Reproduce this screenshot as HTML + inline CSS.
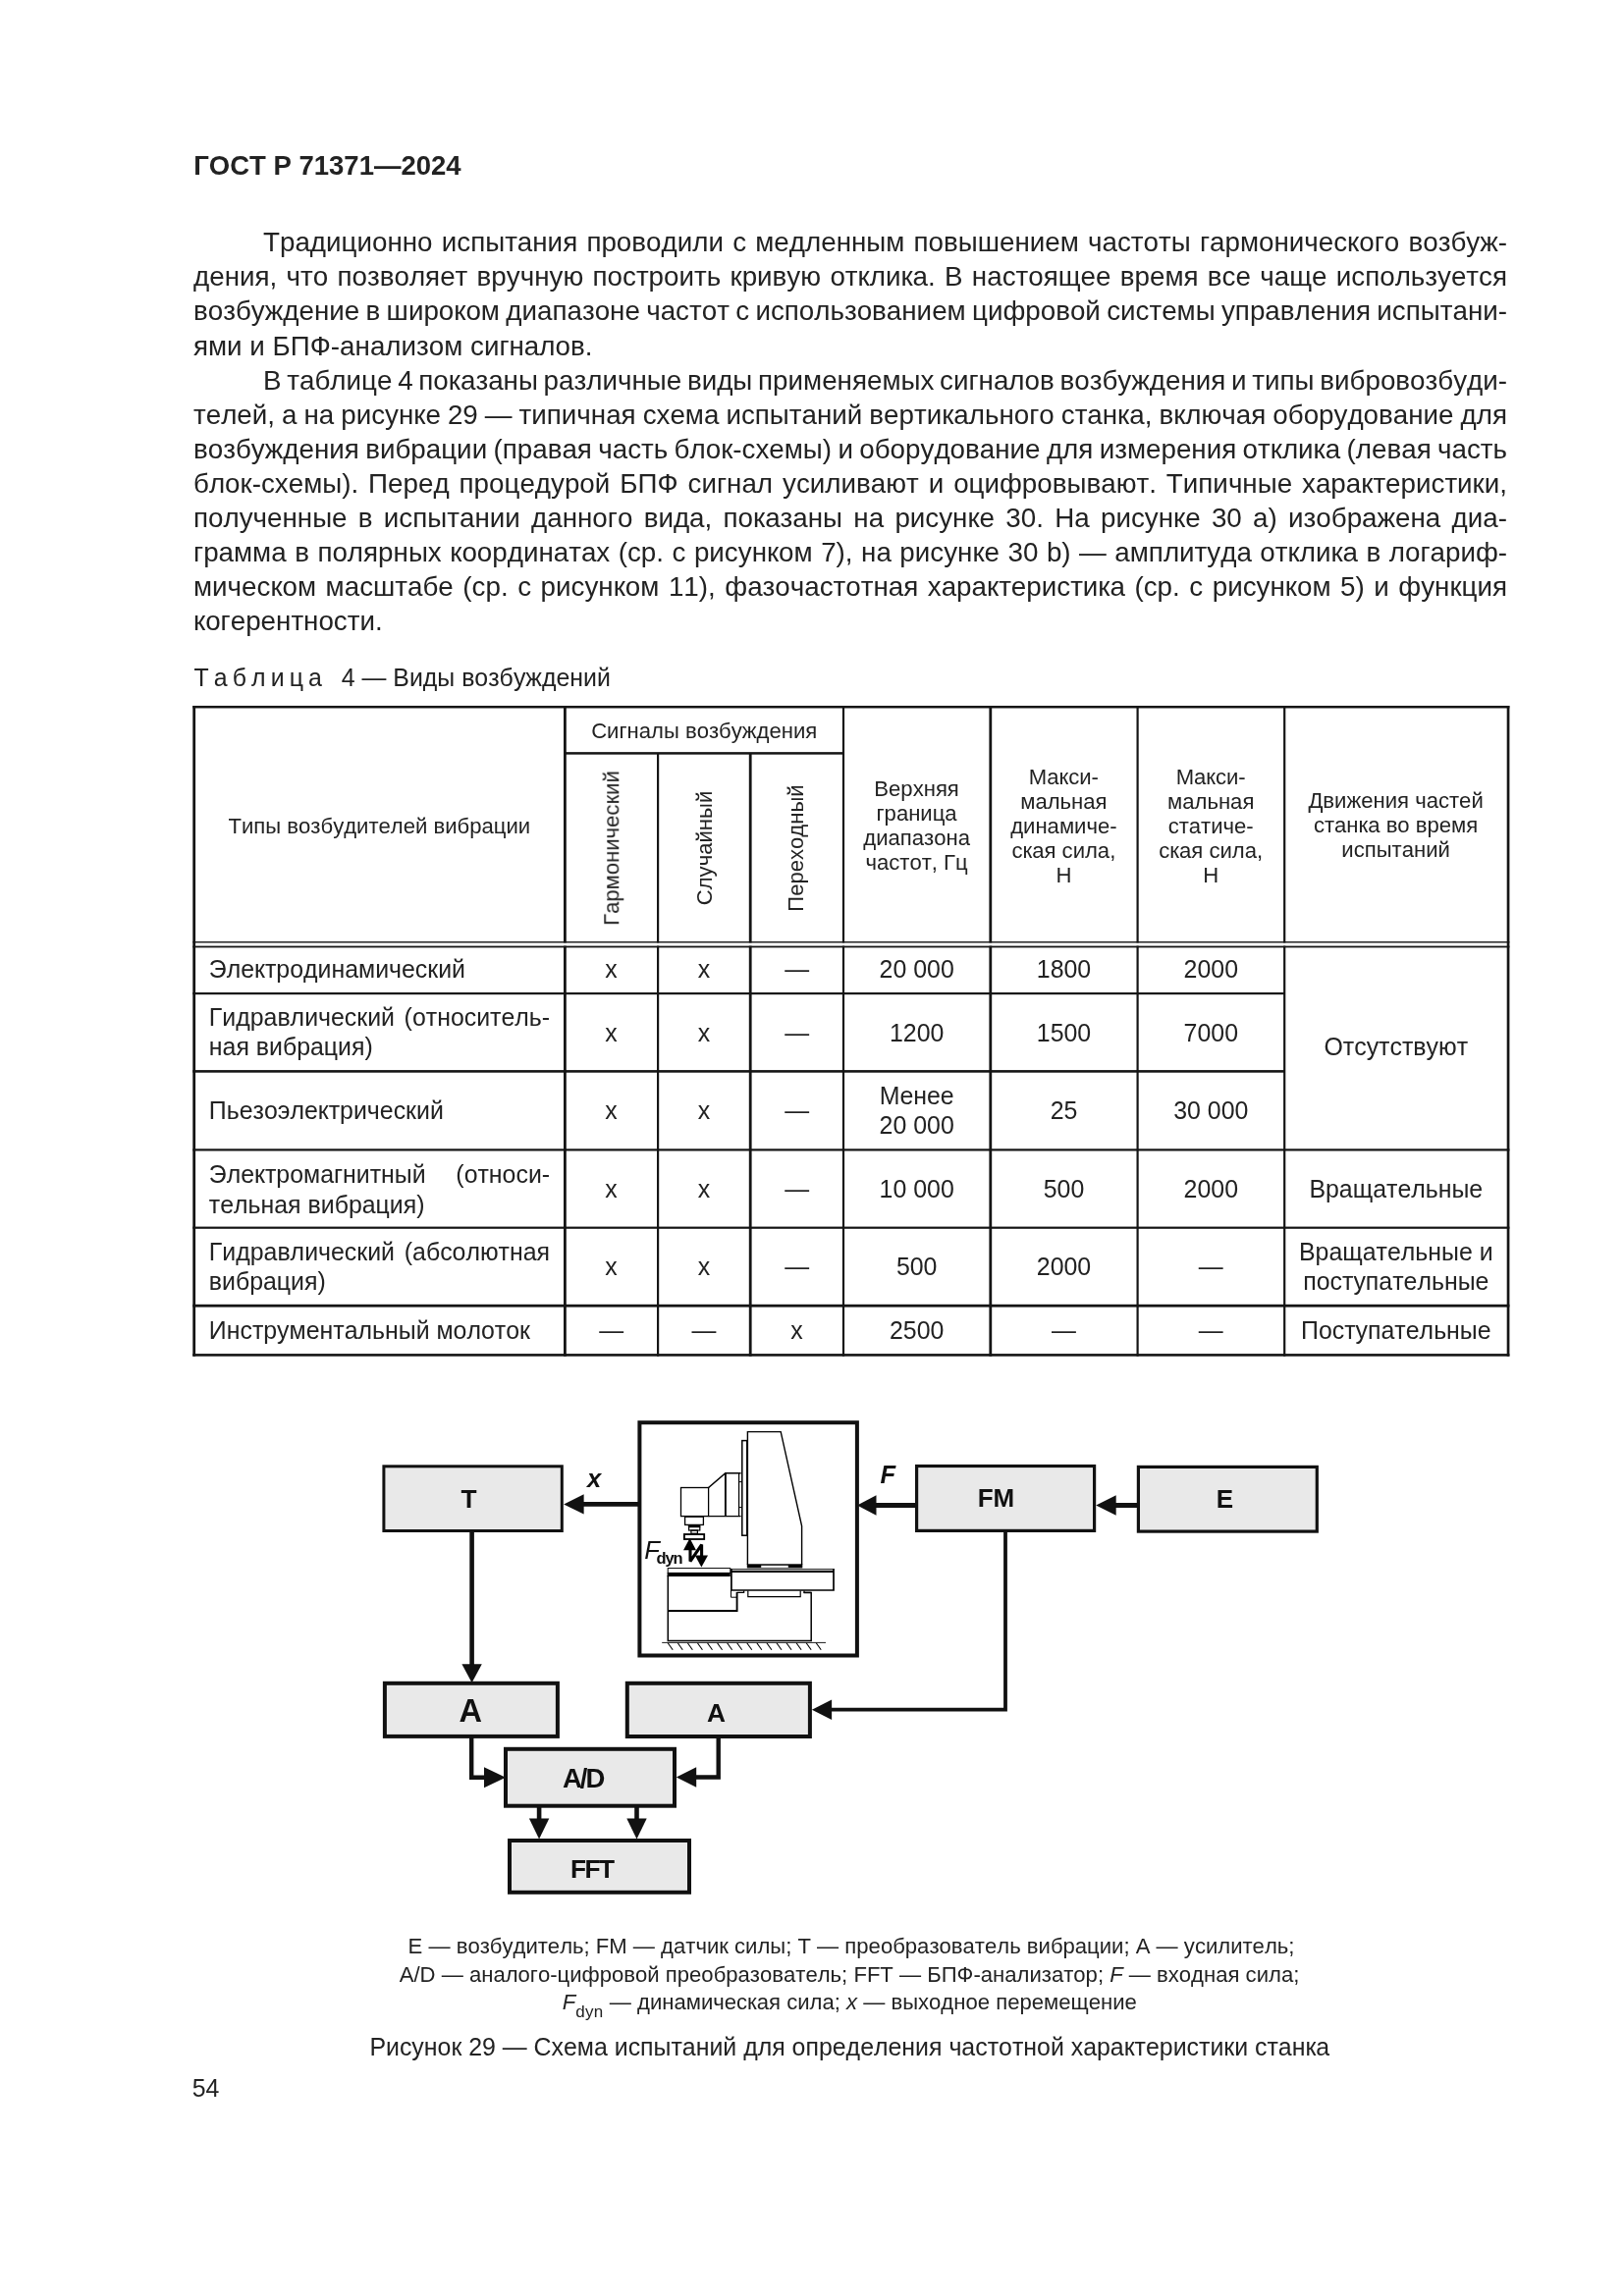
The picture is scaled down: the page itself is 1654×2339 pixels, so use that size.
<!DOCTYPE html>
<html lang="ru"><head><meta charset="utf-8"><title>ГОСТ Р 71371—2024</title>
<style>
html,body{margin:0;padding:0;background:#fff;}
body{width:1654px;height:2339px;position:relative;overflow:hidden;font-family:"Liberation Sans", sans-serif;color:#222;}
.t{position:absolute;white-space:nowrap;font-family:"Liberation Sans", sans-serif;font-kerning:none;}
#pg{position:absolute;left:0;top:0;width:1654px;height:2339px;will-change:transform;}
.b{font-weight:bold;}
.sub{font-size:17px;position:relative;top:7.5px;letter-spacing:0.3px;}
svg{position:absolute;left:0;top:0;}
svg text{font-family:"Liberation Sans", sans-serif;font-kerning:none;}
</style></head>
<body>
<div id="pg">
<svg width="1654" height="2339" viewBox="0 0 1654 2339" fill="#151515">
<rect x="196.30" y="718.95" width="1341.10" height="2.50"/>
<rect x="575.40" y="766.15" width="283.60" height="2.50"/>
<rect x="196.30" y="959.10" width="1341.10" height="1.40"/>
<rect x="196.30" y="963.60" width="1341.10" height="1.80"/>
<rect x="196.30" y="1011.00" width="1111.90" height="2.20"/>
<rect x="196.30" y="1090.10" width="1111.90" height="2.60"/>
<rect x="196.30" y="1170.30" width="1341.10" height="2.20"/>
<rect x="196.30" y="1249.60" width="1341.10" height="2.20"/>
<rect x="196.30" y="1328.80" width="1341.10" height="2.80"/>
<rect x="196.30" y="1379.10" width="1341.10" height="2.60"/>
<rect x="196.30" y="719.00" width="2.80" height="662.70"/>
<rect x="1534.70" y="719.00" width="2.70" height="662.70"/>
<rect x="574.00" y="719.00" width="2.80" height="241.50"/>
<rect x="574.00" y="963.60" width="2.80" height="418.10"/>
<rect x="669.00" y="767.40" width="2.20" height="193.10"/>
<rect x="669.00" y="963.60" width="2.20" height="418.10"/>
<rect x="762.80" y="767.40" width="2.80" height="193.10"/>
<rect x="762.80" y="963.60" width="2.80" height="418.10"/>
<rect x="857.90" y="719.00" width="2.20" height="241.50"/>
<rect x="857.90" y="963.60" width="2.20" height="418.10"/>
<rect x="1007.40" y="719.00" width="2.80" height="241.50"/>
<rect x="1007.40" y="963.60" width="2.80" height="418.10"/>
<rect x="1157.50" y="719.00" width="2.20" height="241.50"/>
<rect x="1157.50" y="963.60" width="2.20" height="418.10"/>
<rect x="1307.10" y="719.00" width="2.20" height="241.50"/>
<rect x="1307.10" y="963.60" width="2.20" height="418.10"/>
</svg>
<svg width="1654" height="2339" viewBox="0 0 1654 2339">
<polyline points="652.00,1532.40 594.00,1532.40" fill="none" stroke="#111" stroke-width="4.8" stroke-linejoin="miter"/>
<polygon points="574.10,1532.40 594.60,1522.20 594.60,1542.60" fill="#111"/>
<polyline points="480.60,1559.00 480.60,1696.00" fill="none" stroke="#111" stroke-width="4.6" stroke-linejoin="miter"/>
<polygon points="480.60,1714.20 470.40,1695.20 490.80,1695.20" fill="#111"/>
<polyline points="933.00,1533.50 892.00,1533.50" fill="none" stroke="#111" stroke-width="5.0" stroke-linejoin="miter"/>
<polygon points="873.00,1533.50 892.50,1523.30 892.50,1543.70" fill="#111"/>
<polyline points="1159.00,1533.50 1136.00,1533.50" fill="none" stroke="#111" stroke-width="5.0" stroke-linejoin="miter"/>
<polygon points="1116.20,1533.50 1136.70,1523.30 1136.70,1543.70" fill="#111"/>
<polyline points="1024.00,1559.00 1024.00,1741.70 846.00,1741.70" fill="none" stroke="#111" stroke-width="3.8" stroke-linejoin="miter"/>
<polygon points="826.90,1741.70 847.10,1731.50 847.10,1751.90" fill="#111"/>
<polyline points="480.20,1769.00 480.20,1810.80 494.00,1810.80" fill="none" stroke="#111" stroke-width="4.4" stroke-linejoin="miter"/>
<polygon points="515.00,1810.80 493.00,1800.30 493.00,1821.30" fill="#111"/>
<polyline points="731.70,1769.00 731.70,1810.50 708.00,1810.50" fill="none" stroke="#111" stroke-width="4.4" stroke-linejoin="miter"/>
<polygon points="688.80,1810.50 709.20,1800.30 709.20,1820.70" fill="#111"/>
<polyline points="549.10,1840.00 549.10,1854.00" fill="none" stroke="#111" stroke-width="4.6" stroke-linejoin="miter"/>
<polygon points="549.10,1873.60 538.90,1852.60 559.30,1852.60" fill="#111"/>
<polyline points="648.50,1840.00 648.50,1854.00" fill="none" stroke="#111" stroke-width="4.6" stroke-linejoin="miter"/>
<polygon points="648.50,1873.60 638.30,1852.60 658.70,1852.60" fill="#111"/>
<rect x="390.90" y="1493.80" width="181.40" height="65.70" fill="#e9e9e9" stroke="#111" stroke-width="3.0"/>
<rect x="933.60" y="1493.50" width="181.00" height="65.90" fill="#e9e9e9" stroke="#111" stroke-width="3.2"/>
<rect x="1159.40" y="1494.40" width="181.90" height="65.70" fill="#e9e9e9" stroke="#111" stroke-width="3.2"/>
<rect x="391.90" y="1714.80" width="176.00" height="54.10" fill="#e9e9e9" stroke="#111" stroke-width="4.0"/>
<rect x="638.80" y="1714.80" width="186.10" height="54.20" fill="#e9e9e9" stroke="#111" stroke-width="4.0"/>
<rect x="515.00" y="1781.80" width="172.00" height="57.90" fill="#e9e9e9" stroke="#111" stroke-width="4.0"/>
<rect x="519.00" y="1875.00" width="183.00" height="52.80" fill="#e9e9e9" stroke="#111" stroke-width="4.0"/>
<rect x="651.40" y="1449.20" width="221.50" height="237.30" fill="#fff" stroke="#111" stroke-width="4.0"/>
<text x="477.60" y="1536.10" font-size="26.3" text-anchor="middle" font-weight="bold" font-style="normal" fill="#111">T</text>
<text x="1014.50" y="1535.40" font-size="26" text-anchor="middle" font-weight="bold" font-style="normal" fill="#111">FM</text>
<text x="1247.50" y="1536.00" font-size="26" text-anchor="middle" font-weight="bold" font-style="normal" fill="#111">E</text>
<text x="479.20" y="1754.30" font-size="32.5" text-anchor="middle" font-weight="bold" font-style="normal" fill="#111">A</text>
<text x="729.40" y="1754.10" font-size="26.3" text-anchor="middle" font-weight="bold" font-style="normal" fill="#111">A</text>
<text x="593.60" y="1821.00" font-size="27.5" text-anchor="middle" font-weight="bold" font-style="normal" fill="#111" letter-spacing="-2.0">A/D</text>
<text x="602.80" y="1913.20" font-size="26.3" text-anchor="middle" font-weight="bold" font-style="normal" fill="#111" letter-spacing="-1.5">FFT</text>
<text x="598.00" y="1514.80" font-size="25.6" text-anchor="start" font-weight="bold" font-style="italic" fill="#111">x</text>
<text x="896.40" y="1510.60" font-size="25.5" text-anchor="start" font-weight="bold" font-style="italic" fill="#111">F</text>
<text x="656.30" y="1587.80" font-size="25.6" text-anchor="start" font-weight="normal" font-style="italic" fill="#111">F</text>
<text x="668.60" y="1592.90" font-size="16.5" text-anchor="start" font-weight="bold" font-style="normal" fill="#111" letter-spacing="-1.2">dyn</text>
<polyline points="761.40,1594.00 761.40,1458.60 795.20,1458.60 816.60,1554.70 816.60,1594.00" fill="none" stroke="#000" stroke-width="1.4"/>
<rect x="760.80" y="1593.30" width="56.50" height="4.10" fill="#000"/>
<rect x="775.2" y="1594.8" width="27.6" height="2.0" fill="#fff"/>
<rect x="755.80" y="1467.60" width="5.00" height="96.60" fill="none" stroke="#000" stroke-width="1.5"/>
<rect x="693.50" y="1515.50" width="28.10" height="29.10" fill="none" stroke="#000" stroke-width="1.3"/>
<polyline points="721.60,1515.50 738.80,1500.70 754.60,1500.70" fill="none" stroke="#000" stroke-width="1.6"/>
<polyline points="721.60,1544.60 754.60,1544.60" fill="none" stroke="#000" stroke-width="1.3"/>
<polyline points="738.90,1500.70 738.90,1544.60" fill="none" stroke="#000" stroke-width="1.9"/>
<polyline points="752.60,1500.70 752.60,1544.60" fill="none" stroke="#000" stroke-width="1.2"/>
<polyline points="752.60,1509.60 755.80,1509.60" fill="none" stroke="#000" stroke-width="1.0"/>
<polyline points="752.60,1535.60 755.80,1535.60" fill="none" stroke="#000" stroke-width="1.0"/>
<rect x="697.60" y="1545.20" width="18.80" height="8.20" fill="none" stroke="#000" stroke-width="1.3"/>
<rect x="700.80" y="1553.60" width="12.60" height="2.00" fill="#000"/>
<rect x="701.60" y="1555.60" width="11.20" height="3.40" fill="none" stroke="#000" stroke-width="1.2"/>
<rect x="703.90" y="1559.00" width="6.50" height="3.20" fill="none" stroke="#000" stroke-width="1.2"/>
<rect x="696.90" y="1563.00" width="20.30" height="5.00" fill="none" stroke="#000" stroke-width="1.8"/>
<polygon points="702.5,1567.1 696.0,1579.3 709.0,1579.3" fill="#000"/>
<polygon points="714.4,1596.4 707.8,1584.5 721.0,1584.5" fill="#000"/>
<polyline points="703.0,1579 703.0,1590.6 714.6,1573.6 714.6,1585" fill="none" stroke="#000" stroke-width="3.1" stroke-linejoin="bevel"/>
<rect x="680.20" y="1597.60" width="63.60" height="4.80" fill="none" stroke="#000" stroke-width="1.0"/>
<rect x="679.60" y="1602.20" width="64.20" height="3.80" fill="#000"/>
<polyline points="680.30,1605.00 680.30,1671.60 826.20,1671.60 826.20,1622.40 818.60,1622.40" fill="none" stroke="#000" stroke-width="1.5"/>
<polyline points="680.30,1641.00 750.60,1641.00 750.60,1622.00" fill="none" stroke="#000" stroke-width="1.9"/>
<rect x="744.2" y="1598.2" width="105.6" height="22.6" fill="#fff"/>
<polyline points="744.90,1598.20 744.90,1620.00 849.00,1620.00 849.00,1598.20" fill="none" stroke="#000" stroke-width="1.7"/>
<polyline points="744.10,1598.70 849.80,1598.70" fill="none" stroke="#000" stroke-width="1.0"/>
<polyline points="744.90,1601.00 849.00,1601.00" fill="none" stroke="#000" stroke-width="1.8"/>
<polyline points="744.50,1620.00 744.50,1627.20 750.60,1627.20" fill="none" stroke="#000" stroke-width="1.0"/>
<polyline points="750.60,1622.40 757.60,1622.40 757.60,1620.60" fill="none" stroke="#000" stroke-width="1.3"/>
<polyline points="761.80,1620.40 761.80,1626.60 815.20,1626.60 815.20,1620.40" fill="none" stroke="#000" stroke-width="1.2"/>
<polyline points="826.20,1622.40 819.00,1622.40 819.00,1620.60" fill="none" stroke="#000" stroke-width="1.3"/>
<polyline points="674.20,1673.40 841.00,1673.40" fill="none" stroke="#000" stroke-width="0.9"/>
<polyline points="680.20,1673.80 685.20,1680.80" fill="none" stroke="#000" stroke-width="1.1"/>
<polyline points="690.27,1673.80 695.27,1680.80" fill="none" stroke="#000" stroke-width="1.1"/>
<polyline points="700.34,1673.80 705.34,1680.80" fill="none" stroke="#000" stroke-width="1.1"/>
<polyline points="710.41,1673.80 715.41,1680.80" fill="none" stroke="#000" stroke-width="1.1"/>
<polyline points="720.48,1673.80 725.48,1680.80" fill="none" stroke="#000" stroke-width="1.1"/>
<polyline points="730.55,1673.80 735.55,1680.80" fill="none" stroke="#000" stroke-width="1.1"/>
<polyline points="740.62,1673.80 745.62,1680.80" fill="none" stroke="#000" stroke-width="1.1"/>
<polyline points="750.69,1673.80 755.69,1680.80" fill="none" stroke="#000" stroke-width="1.1"/>
<polyline points="760.76,1673.80 765.76,1680.80" fill="none" stroke="#000" stroke-width="1.1"/>
<polyline points="770.83,1673.80 775.83,1680.80" fill="none" stroke="#000" stroke-width="1.1"/>
<polyline points="780.90,1673.80 785.90,1680.80" fill="none" stroke="#000" stroke-width="1.1"/>
<polyline points="790.97,1673.80 795.97,1680.80" fill="none" stroke="#000" stroke-width="1.1"/>
<polyline points="801.04,1673.80 806.04,1680.80" fill="none" stroke="#000" stroke-width="1.1"/>
<polyline points="811.11,1673.80 816.11,1680.80" fill="none" stroke="#000" stroke-width="1.1"/>
<polyline points="821.18,1673.80 826.18,1680.80" fill="none" stroke="#000" stroke-width="1.1"/>
<polyline points="831.25,1673.80 836.25,1680.80" fill="none" stroke="#000" stroke-width="1.1"/>
</svg>
<div class="t b" style="top:155px;font-size:27.5px;line-height:27.5px;left:197.20px;">ГОСТ Р 71371—2024</div>
<div class="t " id="b1" style="top:233px;font-size:27.78px;line-height:27.78px;left:268.00px;word-spacing:1.510px;">Традиционно испытания проводили с медленным повышением частоты гармонического возбуж-</div>
<div class="t " id="b2" style="top:268px;font-size:27.78px;line-height:27.78px;left:197.00px;word-spacing:1.608px;">дения, что позволяет вручную построить кривую отклика. В настоящее время все чаще используется</div>
<div class="t " id="b3" style="top:303px;font-size:27.78px;line-height:27.78px;left:197.00px;word-spacing:-1.389px;">возбуждение в широком диапазоне частот с использованием цифровой системы управления испытани-</div>
<div class="t " style="top:339px;font-size:27.78px;line-height:27.78px;left:197.00px;">ями и БПФ-анализом сигналов.</div>
<div class="t " id="b5" style="top:374px;font-size:27.78px;line-height:27.78px;left:268.00px;word-spacing:-1.964px;">В таблице 4 показаны различные виды применяемых сигналов возбуждения и типы вибровозбуди-</div>
<div class="t " id="b6" style="top:409px;font-size:27.78px;line-height:27.78px;left:197.00px;word-spacing:-0.707px;">телей, а на рисунке 29 — типичная схема испытаний вертикального станка, включая оборудование для</div>
<div class="t " id="b7" style="top:444px;font-size:27.78px;line-height:27.78px;left:197.00px;word-spacing:-1.349px;">возбуждения вибрации (правая часть блок-схемы) и оборудование для измерения отклика (левая часть</div>
<div class="t " id="b8" style="top:479px;font-size:27.78px;line-height:27.78px;left:197.00px;word-spacing:2.253px;">блок-схемы). Перед процедурой БПФ сигнал усиливают и оцифровывают. Типичные характеристики,</div>
<div class="t " id="b9" style="top:514px;font-size:27.78px;line-height:27.78px;left:197.00px;word-spacing:3.569px;">полученные в испытании данного вида, показаны на рисунке 30. На рисунке 30 a) изображена диа-</div>
<div class="t " id="b10" style="top:549px;font-size:27.78px;line-height:27.78px;left:197.00px;word-spacing:0.792px;">грамма в полярных координатах (ср. с рисунком 7), на рисунке 30 b) — амплитуда отклика в логариф-</div>
<div class="t " id="b11" style="top:584px;font-size:27.78px;line-height:27.78px;left:197.00px;word-spacing:1.835px;">мическом масштабе (ср. с рисунком 11), фазочастотная характеристика (ср. с рисунком 5) и функция</div>
<div class="t " style="top:619px;font-size:27.78px;line-height:27.78px;left:197.00px;">когерентности.</div>
<div class="t " id="tcap" style="top:678px;font-size:24.9px;line-height:24.9px;left:197.50px;"><span style="letter-spacing:5.1px;margin-right:7.8px">Таблица</span>&nbsp;4 — Виды возбуждений</div>
<div class="t " style="top:831px;font-size:22.1px;line-height:22.1px;left:-213.70px;width:1200px;text-align:center;">Типы возбудителей вибрации</div>
<div class="t " style="top:734px;font-size:22.1px;line-height:22.1px;left:117.20px;width:1200px;text-align:center;">Сигналы возбуждения</div>
<div class="t " style="top:793px;font-size:22.1px;line-height:22.1px;left:333.60px;width:1200px;text-align:center;">Верхняя</div>
<div class="t " style="top:818px;font-size:22.1px;line-height:22.1px;left:333.60px;width:1200px;text-align:center;">граница</div>
<div class="t " style="top:843px;font-size:22.1px;line-height:22.1px;left:333.60px;width:1200px;text-align:center;">диапазона</div>
<div class="t " style="top:868px;font-size:22.1px;line-height:22.1px;left:333.60px;width:1200px;text-align:center;">частот, Гц</div>
<div class="t " style="top:781px;font-size:22.1px;line-height:22.1px;left:483.40px;width:1200px;text-align:center;">Макси-</div>
<div class="t " style="top:806px;font-size:22.1px;line-height:22.1px;left:483.40px;width:1200px;text-align:center;">мальная</div>
<div class="t " style="top:831px;font-size:22.1px;line-height:22.1px;left:483.40px;width:1200px;text-align:center;">динамиче-</div>
<div class="t " style="top:856px;font-size:22.1px;line-height:22.1px;left:483.40px;width:1200px;text-align:center;">ская сила,</div>
<div class="t " style="top:881px;font-size:22.1px;line-height:22.1px;left:483.40px;width:1200px;text-align:center;">Н</div>
<div class="t " style="top:781px;font-size:22.1px;line-height:22.1px;left:633.20px;width:1200px;text-align:center;">Макси-</div>
<div class="t " style="top:806px;font-size:22.1px;line-height:22.1px;left:633.20px;width:1200px;text-align:center;">мальная</div>
<div class="t " style="top:831px;font-size:22.1px;line-height:22.1px;left:633.20px;width:1200px;text-align:center;">статиче-</div>
<div class="t " style="top:856px;font-size:22.1px;line-height:22.1px;left:633.20px;width:1200px;text-align:center;">ская сила,</div>
<div class="t " style="top:881px;font-size:22.1px;line-height:22.1px;left:633.20px;width:1200px;text-align:center;">Н</div>
<div class="t " style="top:805px;font-size:22.1px;line-height:22.1px;left:821.60px;width:1200px;text-align:center;">Движения частей</div>
<div class="t " style="top:830px;font-size:22.1px;line-height:22.1px;left:821.60px;width:1200px;text-align:center;">станка во время</div>
<div class="t " style="top:855px;font-size:22.1px;line-height:22.1px;left:821.60px;width:1200px;text-align:center;">испытаний</div>
<div class="t" style="left:630.90px;top:863.80px;font-size:22.1px;line-height:22.1px;transform-origin:0 0;transform:rotate(-90deg) translate(-50%,-18.71px);">Гармонический</div>
<div class="t" style="left:725.80px;top:863.80px;font-size:22.1px;line-height:22.1px;transform-origin:0 0;transform:rotate(-90deg) translate(-50%,-18.71px);">Случайный</div>
<div class="t" style="left:819.30px;top:863.80px;font-size:22.1px;line-height:22.1px;transform-origin:0 0;transform:rotate(-90deg) translate(-50%,-18.71px);">Переходный</div>
<div class="t " style="top:975px;font-size:24.9px;line-height:24.9px;left:212.80px;">Электродинамический</div>
<div class="t " style="top:975px;font-size:24.9px;line-height:24.9px;left:22.60px;width:1200px;text-align:center;">x</div>
<div class="t " style="top:975px;font-size:24.9px;line-height:24.9px;left:117.00px;width:1200px;text-align:center;">x</div>
<div class="t " style="top:975px;font-size:24.9px;line-height:24.9px;left:211.60px;width:1200px;text-align:center;">—</div>
<div class="t " style="top:975px;font-size:24.9px;line-height:24.9px;left:333.70px;width:1200px;text-align:center;">20 000</div>
<div class="t " style="top:975px;font-size:24.9px;line-height:24.9px;left:483.50px;width:1200px;text-align:center;">1800</div>
<div class="t " style="top:975px;font-size:24.9px;line-height:24.9px;left:633.30px;width:1200px;text-align:center;">2000</div>
<div class="t " id="r1" style="top:1024px;font-size:24.9px;line-height:24.9px;left:212.80px;word-spacing:2.691px;">Гидравлический (относитель-</div>
<div class="t " style="top:1054px;font-size:24.9px;line-height:24.9px;left:212.80px;">ная вибрация)</div>
<div class="t " style="top:1040px;font-size:24.9px;line-height:24.9px;left:22.60px;width:1200px;text-align:center;">x</div>
<div class="t " style="top:1040px;font-size:24.9px;line-height:24.9px;left:117.00px;width:1200px;text-align:center;">x</div>
<div class="t " style="top:1040px;font-size:24.9px;line-height:24.9px;left:211.60px;width:1200px;text-align:center;">—</div>
<div class="t " style="top:1040px;font-size:24.9px;line-height:24.9px;left:333.70px;width:1200px;text-align:center;">1200</div>
<div class="t " style="top:1040px;font-size:24.9px;line-height:24.9px;left:483.50px;width:1200px;text-align:center;">1500</div>
<div class="t " style="top:1040px;font-size:24.9px;line-height:24.9px;left:633.30px;width:1200px;text-align:center;">7000</div>
<div class="t " style="top:1119px;font-size:24.9px;line-height:24.9px;left:212.80px;">Пьезоэлектрический</div>
<div class="t " style="top:1119px;font-size:24.9px;line-height:24.9px;left:22.60px;width:1200px;text-align:center;">x</div>
<div class="t " style="top:1119px;font-size:24.9px;line-height:24.9px;left:117.00px;width:1200px;text-align:center;">x</div>
<div class="t " style="top:1119px;font-size:24.9px;line-height:24.9px;left:211.60px;width:1200px;text-align:center;">—</div>
<div class="t " style="top:1119px;font-size:24.9px;line-height:24.9px;left:483.50px;width:1200px;text-align:center;">25</div>
<div class="t " style="top:1119px;font-size:24.9px;line-height:24.9px;left:633.30px;width:1200px;text-align:center;">30 000</div>
<div class="t " id="r3" style="top:1184px;font-size:24.9px;line-height:24.9px;left:212.80px;word-spacing:23.769px;">Электромагнитный (относи-</div>
<div class="t " style="top:1215px;font-size:24.9px;line-height:24.9px;left:212.80px;">тельная вибрация)</div>
<div class="t " style="top:1199px;font-size:24.9px;line-height:24.9px;left:22.60px;width:1200px;text-align:center;">x</div>
<div class="t " style="top:1199px;font-size:24.9px;line-height:24.9px;left:117.00px;width:1200px;text-align:center;">x</div>
<div class="t " style="top:1199px;font-size:24.9px;line-height:24.9px;left:211.60px;width:1200px;text-align:center;">—</div>
<div class="t " style="top:1199px;font-size:24.9px;line-height:24.9px;left:333.70px;width:1200px;text-align:center;">10 000</div>
<div class="t " style="top:1199px;font-size:24.9px;line-height:24.9px;left:483.50px;width:1200px;text-align:center;">500</div>
<div class="t " style="top:1199px;font-size:24.9px;line-height:24.9px;left:633.30px;width:1200px;text-align:center;">2000</div>
<div class="t " id="r4" style="top:1263px;font-size:24.9px;line-height:24.9px;left:212.80px;word-spacing:2.847px;">Гидравлический (абсолютная</div>
<div class="t " style="top:1293px;font-size:24.9px;line-height:24.9px;left:212.80px;">вибрация)</div>
<div class="t " style="top:1278px;font-size:24.9px;line-height:24.9px;left:22.60px;width:1200px;text-align:center;">x</div>
<div class="t " style="top:1278px;font-size:24.9px;line-height:24.9px;left:117.00px;width:1200px;text-align:center;">x</div>
<div class="t " style="top:1278px;font-size:24.9px;line-height:24.9px;left:211.60px;width:1200px;text-align:center;">—</div>
<div class="t " style="top:1278px;font-size:24.9px;line-height:24.9px;left:333.70px;width:1200px;text-align:center;">500</div>
<div class="t " style="top:1278px;font-size:24.9px;line-height:24.9px;left:483.50px;width:1200px;text-align:center;">2000</div>
<div class="t " style="top:1278px;font-size:24.9px;line-height:24.9px;left:633.30px;width:1200px;text-align:center;">—</div>
<div class="t " style="top:1343px;font-size:24.9px;line-height:24.9px;left:212.80px;">Инструментальный молоток</div>
<div class="t " style="top:1343px;font-size:24.9px;line-height:24.9px;left:22.60px;width:1200px;text-align:center;">—</div>
<div class="t " style="top:1343px;font-size:24.9px;line-height:24.9px;left:117.00px;width:1200px;text-align:center;">—</div>
<div class="t " style="top:1343px;font-size:24.9px;line-height:24.9px;left:211.60px;width:1200px;text-align:center;">x</div>
<div class="t " style="top:1343px;font-size:24.9px;line-height:24.9px;left:333.70px;width:1200px;text-align:center;">2500</div>
<div class="t " style="top:1343px;font-size:24.9px;line-height:24.9px;left:483.50px;width:1200px;text-align:center;">—</div>
<div class="t " style="top:1343px;font-size:24.9px;line-height:24.9px;left:633.30px;width:1200px;text-align:center;">—</div>
<div class="t " style="top:1104px;font-size:24.9px;line-height:24.9px;left:333.70px;width:1200px;text-align:center;">Менее</div>
<div class="t " style="top:1134px;font-size:24.9px;line-height:24.9px;left:333.70px;width:1200px;text-align:center;">20 000</div>
<div class="t " style="top:1054px;font-size:24.9px;line-height:24.9px;left:821.80px;width:1200px;text-align:center;">Отсутствуют</div>
<div class="t " style="top:1199px;font-size:24.9px;line-height:24.9px;left:821.80px;width:1200px;text-align:center;">Вращательные</div>
<div class="t " style="top:1263px;font-size:24.9px;line-height:24.9px;left:821.80px;width:1200px;text-align:center;">Вращательные и</div>
<div class="t " style="top:1293px;font-size:24.9px;line-height:24.9px;left:821.80px;width:1200px;text-align:center;">поступательные</div>
<div class="t " style="top:1343px;font-size:24.9px;line-height:24.9px;left:821.80px;width:1200px;text-align:center;">Поступательные</div>
<div class="t " id="lg1" style="top:1972px;font-size:22.1px;line-height:22.1px;left:267.00px;width:1200px;text-align:center;">E — возбудитель; FM — датчик силы; T — преобразователь вибрации; A — усилитель;</div>
<div class="t " id="lg2" style="top:2001px;font-size:22.1px;line-height:22.1px;left:265.00px;width:1200px;text-align:center;">A/D — аналого-цифровой преобразователь; FFT — БПФ-анализатор; <i>F</i> — входная сила;</div>
<div class="t " id="lg3" style="top:2029px;font-size:22.1px;line-height:22.1px;left:265.30px;width:1200px;text-align:center;"><i>F</i><span class="sub">dyn</span> — динамическая сила; <i>x</i> — выходное перемещение</div>
<div class="t " id="fcap" style="top:2073px;font-size:24.9px;line-height:24.9px;left:265.30px;width:1200px;text-align:center;">Рисунок 29 — Схема испытаний для определения частотной характеристики станка</div>
<div class="t " style="top:2115px;font-size:24.9px;line-height:24.9px;left:195.70px;">54</div>
</div>
</body></html>
